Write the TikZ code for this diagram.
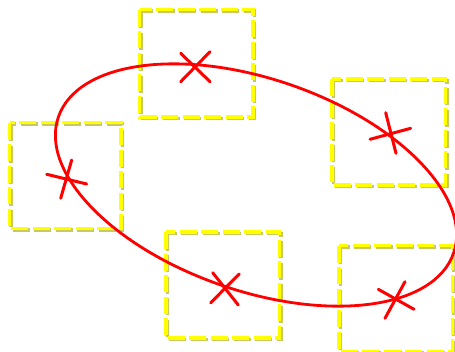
\documentclass[tikz,border=0pt]{standalone}
\definecolor{boxshade}{RGB}{200,200,100}
\definecolor{boxyellow}{RGB}{255,255,0}
\definecolor{curvered}{RGB}{255,0,0}
\begin{document}
\begin{tikzpicture}[x=1pt,y=-1pt]
\tikzset{
  boxshadow/.style={draw=boxshade, line width=3.8pt, dash pattern=on 17pt off 4.5pt},
  boxline/.style={draw=boxyellow, line width=3.8pt, dash pattern=on 17pt off 4.5pt},
  curveline/.style={draw=curvered, line width=2.8pt},
  starline/.style={draw=curvered, line width=3pt, line cap=round},
}
\useasboundingbox (0,0) rectangle (455,351);
% squares: shadow then yellow
\foreach \xa/\ya/\xb/\yb in {139.5/9.5/253/117, 9.5/122.5/121/228.5, 332/79/445.5/185, 166/232/279.5/338, 339/245.5/452.5/351.5}{
  \draw[boxshadow] (\xa+1.5,\ya+1.5) rectangle (\xb+1.5,\yb+1.5);
  \draw[boxline] (\xa,\ya) rectangle (\xb,\yb);
}
% ellipse
\draw[curveline, shift={(256,185)}, rotate=-19] (0,0) ellipse [x radius=209pt, y radius=106pt];
% star centres
\coordinate (c1) at (195,68);
\coordinate (c2) at (66.7,178.3);
\coordinate (c3) at (389,133.3);
\coordinate (c4) at (225,288.3);
\coordinate (c5) at (396.7,298.3);
% stars
\draw[starline] ([shift={(-14.3,-14.7)}]c1) -- ([shift={(15,13.7)}]c1);
\draw[starline] ([shift={(15,-16.3)}]c1) -- ([shift={(-14.3,13.7)}]c1);
\draw[starline] ([shift={(-20,-4)}]c2) -- ([shift={(20,5.7)}]c2);
\draw[starline] ([shift={(5,-18.3)}]c2) -- ([shift={(-6,20)}]c2);
\draw[starline] ([shift={(-19,6)}]c3) -- ([shift={(21.7,-5)}]c3);
\draw[starline] ([shift={(-3.3,-20.6)}]c3) -- ([shift={(7,20)}]c3);
\draw[starline] ([shift={(-12.3,-15.6)}]c4) -- ([shift={(13.3,16.7)}]c4);
\draw[starline] ([shift={(14.3,-14.3)}]c4) -- ([shift={(-14.3,14.4)}]c4);
\draw[starline] ([shift={(8.3,-16.6)}]c5) -- ([shift={(-11.7,20)}]c5);
\draw[starline] ([shift={(-18.4,-9)}]c5) -- ([shift={(17.3,11)}]c5);
\end{tikzpicture}
\end{document}
